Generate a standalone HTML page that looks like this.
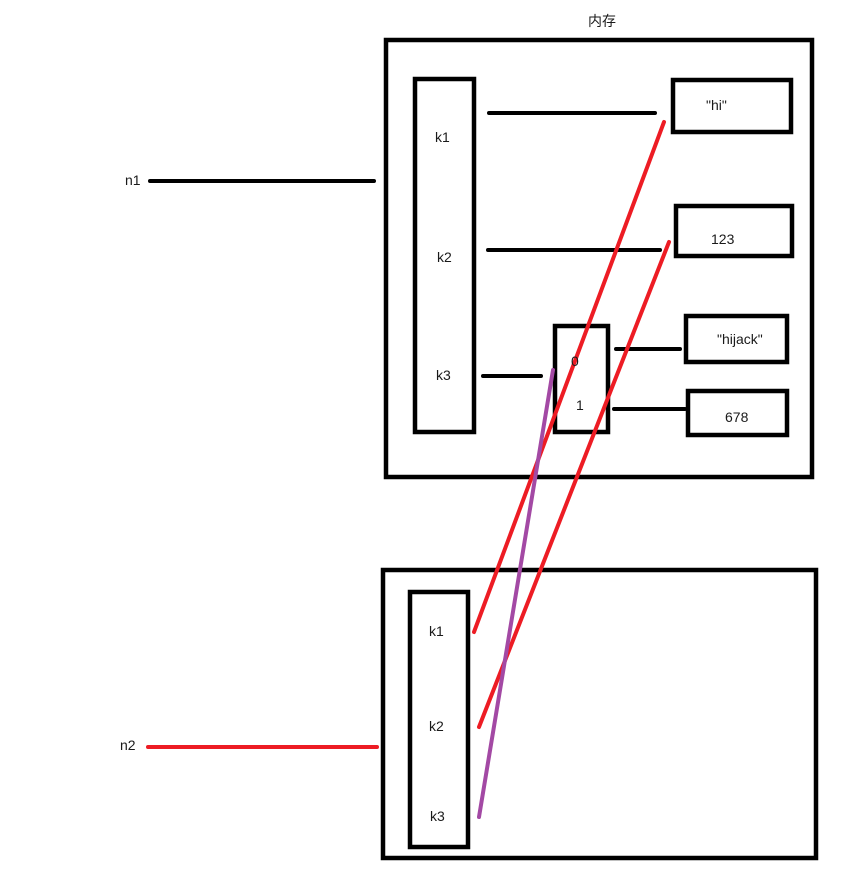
<!DOCTYPE html>
<html><head><meta charset="utf-8"><style>
body{margin:0;background:#fff;width:849px;height:864px;overflow:hidden}
svg text{font-family:"Liberation Sans","Noto Sans CJK SC",sans-serif;font-size:14px;fill:#1a1a1a}
</style></head><body>
<svg width="849" height="864" viewBox="0 0 849 864" xmlns="http://www.w3.org/2000/svg">
<g fill="none" stroke="#000" stroke-width="4.5">
<rect x="386" y="40" width="426" height="437"/>
<rect x="415" y="79" width="59" height="353"/>
<rect x="673" y="80" width="118" height="52"/>
<rect x="676" y="206" width="116" height="50"/>
<rect x="686" y="316" width="101" height="46"/>
<rect x="688" y="391" width="99" height="44"/>
<rect x="555" y="326" width="53" height="106"/>
<rect x="383" y="570" width="433" height="288"/>
<rect x="410" y="592" width="58" height="255"/>
</g>
<g stroke="#000" stroke-width="4" stroke-linecap="round">
<line x1="489" y1="113" x2="655" y2="113"/>
<line x1="488" y1="250" x2="660" y2="250"/>
<line x1="483" y1="376" x2="541" y2="376"/>
<line x1="616" y1="349" x2="680" y2="349"/>
<line x1="614" y1="409" x2="685" y2="409"/>
<line x1="150" y1="181" x2="374" y2="181"/>
</g>
<g stroke="#ed1c24" stroke-width="4" stroke-linecap="round">
<line x1="664" y1="122" x2="474" y2="632"/>
<line x1="669" y1="242" x2="479" y2="727"/>
<line x1="148" y1="747" x2="377" y2="747"/>
</g>
<line x1="553" y1="370" x2="479" y2="817" stroke="#a349a4" stroke-width="4" stroke-linecap="round"/>
<text x="588" y="26">内存</text>
<text x="435" y="142">k1</text>
<text x="437" y="262">k2</text>
<text x="436" y="380">k3</text>
<text x="706" y="110">"hi"</text>
<text x="711" y="244">123</text>
<text x="717" y="344">"hijack"</text>
<text x="725" y="422">678</text>
<text x="571" y="366">0</text>
<text x="576" y="410">1</text>
<text x="125" y="185">n1</text>
<text x="120" y="750">n2</text>
<text x="429" y="636">k1</text>
<text x="429" y="731">k2</text>
<text x="430" y="821">k3</text>
</svg>
</body></html>
